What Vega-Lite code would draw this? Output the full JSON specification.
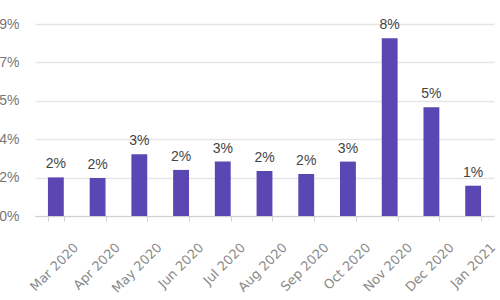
{
  "$schema": "https://vega.github.io/schema/vega-lite/v6.json",
  "width": 459,
  "height": 192,
  "autosize": {"type": "none"},
  "padding": {"left": 35, "top": 24, "right": 6, "bottom": 84},
  "background": "white",
  "data": {
    "values": [
      {"month": "Mar 2020", "rate": 1.81},
      {"month": "Apr 2020", "rate": 1.78},
      {"month": "May 2020", "rate": 2.89},
      {"month": "Jun 2020", "rate": 2.16},
      {"month": "Jul 2020", "rate": 2.55},
      {"month": "Aug 2020", "rate": 2.11},
      {"month": "Sep 2020", "rate": 1.97},
      {"month": "Oct 2020", "rate": 2.55},
      {"month": "Nov 2020", "rate": 8.33},
      {"month": "Dec 2020", "rate": 5.1},
      {"month": "Jan 2021", "rate": 1.42}
    ]
  },
  "config": {
    "view": {"stroke": null},
    "font": "Liberation Sans"
  },
  "transform": [
    {"calculate": "format(datum.rate, '.0f') + '%'", "as": "label"}
  ],
  "encoding": {
    "x": {
      "field": "month",
      "type": "nominal",
      "sort": null,
      "scale": {"paddingInner": 0.62, "paddingOuter": 0.31},
      "axis": {
        "title": null,
        "labelAngle": -45,
        "labelAlign": "right",
        "labelBaseline": "middle",
        "labelOffset": 20,
        "labelPadding": 24,
        "labelFont": "DejaVu Sans",
        "labelFontSize": 13,
        "labelColor": "#8a8a8a",
        "labelOverlap": false,
        "domainColor": "#d0d0d0",
        "tickColor": "#d0d0d0",
        "tickBand": "extent",
        "tickSize": 5,
        "grid": false
      }
    },
    "y": {
      "field": "rate",
      "type": "quantitative",
      "scale": {"domain": [0, 9], "nice": false},
      "axis": {
        "title": null,
        "values": [0, 1.8, 3.6, 5.4, 7.2, 9],
        "labelExpr": "format(datum.value, '.0f') + '%'",
        "labelFontSize": 14,
        "labelColor": "#777777",
        "labelPadding": 16,
        "ticks": false,
        "domain": false,
        "grid": true,
        "gridColor": "#e6e6e6",
        "gridWidth": 1.5
      }
    }
  },
  "layer": [
    {"mark": {"type": "bar", "color": "#5b47b3"}},
    {
      "mark": {"type": "text", "baseline": "bottom", "dy": -6, "fontSize": 14, "color": "#444444"},
      "encoding": {
        "text": {"field": "label", "type": "nominal"}
      }
    }
  ]
}
